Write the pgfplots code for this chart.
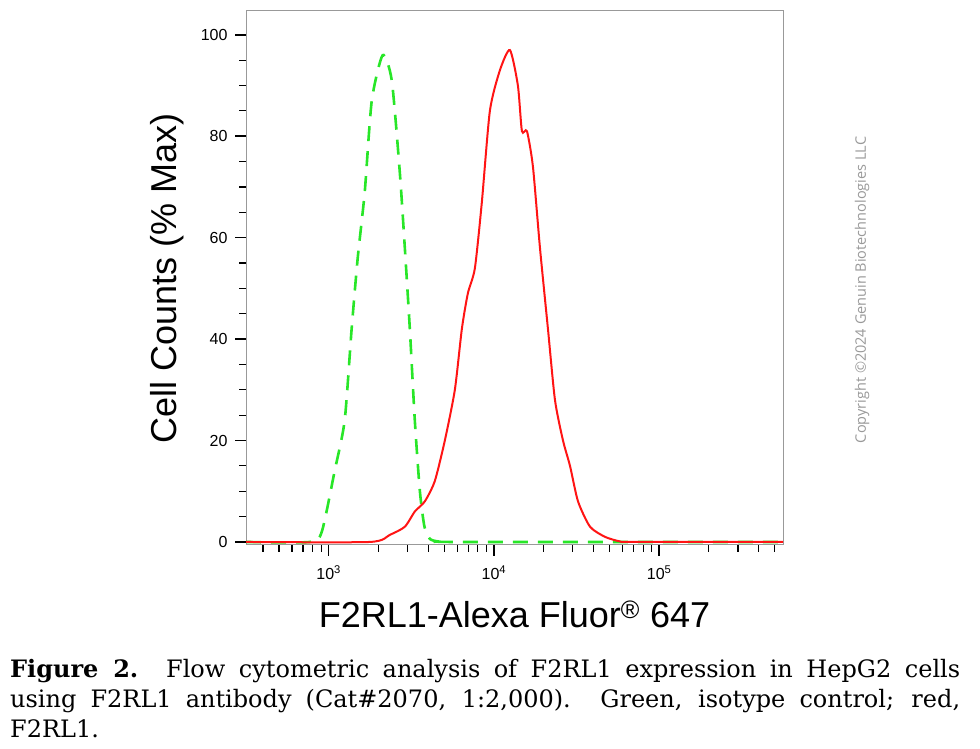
\documentclass[border=0pt]{standalone}
\usepackage{pgfplots}
\pgfplotsset{compat=1.18}
\usepackage{fontspec}
\setmainfont{Liberation Sans}
\newfontfamily\capfont{DejaVu Serif}
\newfontfamily\wmfont{Open Sans}
\definecolor{gline}{RGB}{40,230,40}
\definecolor{rline}{RGB}{255,20,20}
\begin{document}
\begin{tikzpicture}
\useasboundingbox (0pt,0pt) rectangle (980pt,749pt);
\begin{axis}[at={(246pt,204pt)},anchor=south west,scale only axis,width=537pt,height=534pt,
 xmode=log,xmin=316,xmax=562000,ymin=-0.6,ymax=104.7,
 xtick={1000,10000,100000},xticklabels={10\textsuperscript{3},10\textsuperscript{4},10\textsuperscript{5}},
 ytick={0,20,40,60,80,100},minor ytick={5,10,15,25,30,35,45,50,55,65,70,75,85,90,95},
 minor xtick={400,500,600,700,800,900,2000,3000,4000,5000,6000,7000,8000,9000,20000,30000,40000,50000,60000,70000,80000,90000,200000,300000,400000,500000},
 tick align=outside,xtick pos=bottom,ytick pos=left,
 major tick length=11pt,minor tick length=7pt,
 tick style={black,line width=1.6pt},minor tick style={black,line width=1.2pt},
 axis line style={gray!80,line width=1pt},
 ticklabel style={font=\fontsize{16}{18}\selectfont},
 xticklabel style={yshift=-6pt},yticklabel style={xshift=-4pt},
 /pgf/number format/assume math mode=true,
 xlabel={F2RL1-Alexa Fluor\textsuperscript{\textregistered} 647},
 ylabel={Cell Counts (\% Max)},
 label style={font=\fontsize{36}{40}\selectfont},
 xlabel style={yshift=-14pt},ylabel style={yshift=10pt},
 clip=true]
\addplot[gline,line width=2.6pt,dash pattern=on 15pt off 10pt,smooth,tension=0.4] coordinates {
(316,0)(768,0)(908,2)(1087,14)(1250,24)(1377,42)(1499,56)(1653,69)(1823,87)(2123,96)
(2409,91)(2693,73)(2890,58)(3099,42)(3321,24)(3565,10)(3800,3)(4100,0.6)(4600,0.1)(5500,0)(562000,0)};
\addplot[rline,line width=2pt,smooth,tension=0.4] coordinates {
(316,0)(1771,0)(2344,1.4)(2890,3)(3321,6)(3819,8)(4388,12)(5047,20)(5803,30)(6398,42)
(6955,49)(7674,54)(8454,67)(9455,85)(10870,93)(12497,97)(13970,90)(14780,81)(15850,81)
(17230,74)(19000,58)(21240,42)(23420,28)(26190,20)(28880,15)(32290,8)(38190,3)
(47100,1)(58070,0.1)(70000,0)(562000,0)};
\end{axis}
\node[rotate=90,text=gray!80,font=\wmfont\fontsize{14.5}{16}\selectfont] at (862pt,459pt) {Copyright ©2024 Genuin Biotechnologies LLC};
\node[anchor=north west,text width=950pt,align=justify,inner sep=0pt,
 font=\capfont\fontsize{24}{30}\selectfont] at (10pt,90pt)
 {\textbf{Figure 2.} Flow cytometric analysis of F2RL1 expression in HepG2 cells\linebreak using F2RL1 antibody (Cat\#2070, 1:2,000). Green, isotype control; red,\linebreak F2RL1.};
\end{tikzpicture}
\end{document}
